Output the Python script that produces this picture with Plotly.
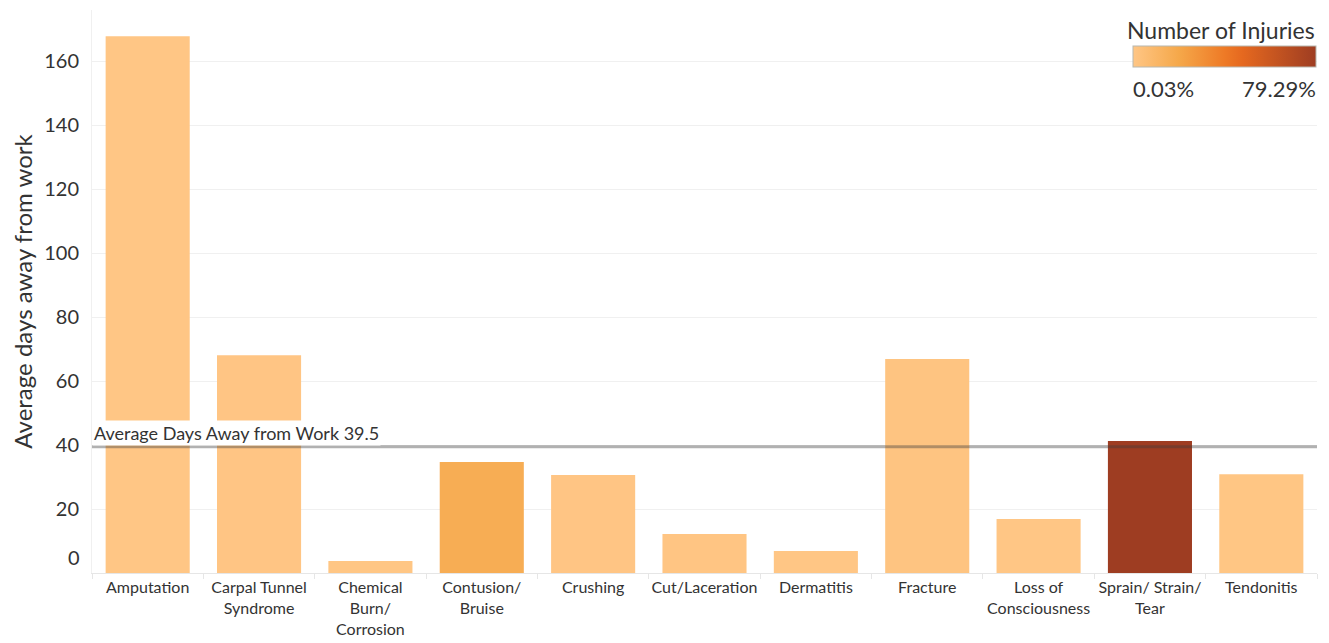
import plotly.graph_objects as go

categories = ["Amputation", "Carpal Tunnel<br>Syndrome", "Chemical<br>Burn/<br>Corrosion",
              "Contusion/<br>Bruise", "Crushing", "Cut/Laceration", "Dermatitis", "Fracture",
              "Loss of<br>Consciousness", "Sprain/ Strain/<br>Tear", "Tendonitis"]
avg_days = [167.8, 68.1, 3.75, 34.7, 30.6, 12.2, 6.9, 66.9, 16.9, 41.25, 30.9]
injury_pct = [0.1, 0.5, 0.2, 16.5, 0.4, 0.6, 0.03, 1.4, 0.1, 79.29, 0.3]
overall_avg = 39.5
y_ticks = [0, 20, 40, 60, 80, 100, 120, 140, 160]
y_ticktext = ["", "20", "40", "60", "80", "100", "120", "140", "160"]

FONT = "Lato"
TXT = "#333333"

colorscale = [[0.0, "#ffc685"], [0.25, "#f5a84a"], [0.5, "#ee7a26"],
              [0.6, "#e5681f"], [1.0, "#9e3d22"]]

# plot area in screenshot pixels: x 92..1317, y 10..573 (page has an 8px body offset)
PX0, PW, PY0, PH = 92, 1225, 10, 563


def px(x):
    return (x - PX0) / PW


def py(y):
    return (PY0 + PH - y) / PH


fig = go.Figure()
fig.add_trace(go.Bar(
    x=categories, y=avg_days,
    marker=dict(color=injury_pct, colorscale=colorscale, cmin=min(injury_pct), cmax=max(injury_pct),
                line=dict(width=0),
                colorbar=dict(orientation="h", thickness=21, thicknessmode="pixels",
                              len=183, lenmode="pixels", x=px(1224.5), xanchor="center",
                              y=py(57.5), yanchor="middle", xpad=0, ypad=0,
                              outlinewidth=1, outlinecolor="#b8b8b0",
                              showticklabels=False, ticks="", title=dict(text=""))),
    showlegend=False,
))

fig.add_shape(type="line", xref="paper", x0=0, x1=1, yref="y", y0=overall_avg, y1=overall_avg,
              line=dict(color="rgba(60,60,60,0.4)", width=3), layer="above")

fig.add_annotation(text=f"Average Days Away from Work {overall_avg}", xref="paper", x=0, xanchor="left",
                   yref="y", y=overall_avg, yanchor="bottom", yshift=1, showarrow=False,
                   bgcolor="white", borderpad=1, font=dict(family=FONT, size=18, color=TXT))

fig.add_annotation(text="0", xref="paper", x=0, xanchor="right", xshift=-10,
                   yref="y", y=0, yanchor="middle", yshift=16, showarrow=False,
                   font=dict(family=FONT, size=20, color=TXT))

fig.add_annotation(text="Number of Injuries", xref="paper", x=px(1317), xanchor="right",
                   yref="paper", y=py(30), yanchor="middle", showarrow=False,
                   font=dict(family=FONT, size=23, color=TXT))
fig.add_annotation(text=f"{min(injury_pct):.2f}%", xref="paper", x=px(1131), xanchor="left",
                   yref="paper", y=py(88), yanchor="middle", showarrow=False,
                   font=dict(family=FONT, size=22, color=TXT))
fig.add_annotation(text=f"{max(injury_pct):.2f}%", xref="paper", x=px(1318), xanchor="right",
                   yref="paper", y=py(88), yanchor="middle", showarrow=False,
                   font=dict(family=FONT, size=22, color=TXT))

fig.update_layout(
    width=1321, height=635,
    margin=dict(l=PX0 - 8, r=1321 - (PX0 + PW - 8), t=PY0 - 8, b=635 - (PY0 + PH - 8)),
    paper_bgcolor="white", plot_bgcolor="white",
    bargap=0.245,
    font=dict(family=FONT, color=TXT),
    xaxis=dict(showgrid=False, showline=True, linecolor="#e6e6e6", linewidth=1,
               ticks="outside", tickson="boundaries", ticklen=5, tickcolor="#e6e6e6",
               tickangle=0, automargin=False,
               tickfont=dict(family=FONT, size=16, color=TXT)),
    yaxis=dict(range=[0, 176], tickvals=y_ticks, ticktext=y_ticktext, automargin=False,
               showgrid=True, gridcolor="#f0f0f0", gridwidth=1, zeroline=False,
               showline=True, linecolor="#f0f0f0", ticks="", ticklabelstandoff=8,
               tickfont=dict(family=FONT, size=20, color=TXT),
               title=dict(text="Average days away from work", standoff=12,
                          font=dict(family=FONT, size=24, color=TXT))),
)

fig.write_html("out.html")
